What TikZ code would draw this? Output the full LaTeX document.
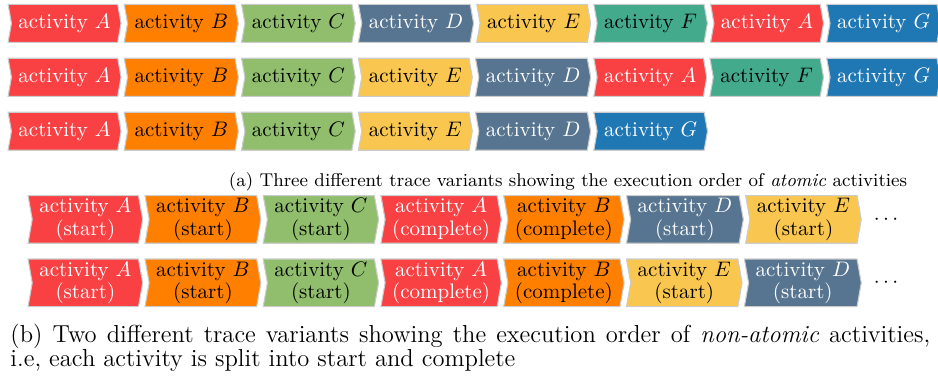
\documentclass[tikz,border=0pt]{standalone}
\usetikzlibrary{shapes.symbols,positioning}

\definecolor{actred}{HTML}{F94144}
\definecolor{actorange}{HTML}{FF7F00}
\definecolor{actgreen}{HTML}{90BE6D}
\definecolor{actslate}{HTML}{577590}
\definecolor{actyellow}{HTML}{F9C74F}
\definecolor{actteal}{HTML}{43AA8B}
\definecolor{actblue}{HTML}{1F78B4}

\begin{document}
\begin{tikzpicture}[x=1pt,y=1pt,
    act/.style  = {signal, signal to=east, signal from=west, signal pointer angle=160,
                   draw=gray!40, line width=0.5pt, inner xsep=3.35pt, minimum height=18.1pt},
    act2/.style = {act, align=center, inner ysep=1pt, minimum height=22.7pt,
                   font=\fontsize{10}{10.5}\selectfont},
    colA/.style = {fill=actred, text=white},
    colB/.style = {fill=actorange},
    colC/.style = {fill=actgreen},
    colD/.style = {fill=actslate, text=white},
    colE/.style = {fill=actyellow},
    colF/.style = {fill=actteal},
    colG/.style = {fill=actblue, text=white},
    gap/.style  = {right=2.6pt of #1}]
    \useasboundingbox (0,0) rectangle (446.7,-181.4);

    % (a) atomic activities
    \node[act,colA,anchor=west] (r1a) at (5.2,-11.1) {activity $A$};
    \node[act,colB,gap=r1a] (r1b) {activity $B$};
    \node[act,colC,gap=r1b] (r1c) {activity $C$};
    \node[act,colD,gap=r1c] (r1d) {activity $D$};
    \node[act,colE,gap=r1d] (r1e) {activity $E$};
    \node[act,colF,gap=r1e] (r1f) {activity $F$};
    \node[act,colA,gap=r1f] (r1g) {activity $A$};
    \node[act,colG,gap=r1g] (r1h) {activity $G$};

    \node[act,colA,anchor=west] (r2a) at (5.2,-36.8) {activity $A$};
    \node[act,colB,gap=r2a] (r2b) {activity $B$};
    \node[act,colC,gap=r2b] (r2c) {activity $C$};
    \node[act,colE,gap=r2c] (r2d) {activity $E$};
    \node[act,colD,gap=r2d] (r2e) {activity $D$};
    \node[act,colA,gap=r2e] (r2f) {activity $A$};
    \node[act,colF,gap=r2f] (r2g) {activity $F$};
    \node[act,colG,gap=r2g] (r2h) {activity $G$};

    \node[act,colA,anchor=west] (r3a) at (5.2,-62.5) {activity $A$};
    \node[act,colB,gap=r3a] (r3b) {activity $B$};
    \node[act,colC,gap=r3b] (r3c) {activity $C$};
    \node[act,colE,gap=r3c] (r3d) {activity $E$};
    \node[act,colD,gap=r3d] (r3e) {activity $D$};
    \node[act,colG,gap=r3e] (r3f) {activity $G$};

    \node[anchor=base,inner sep=0,font=\fontsize{8.8}{11}\selectfont] (capa) at (270.5,-89)
        {(a) Three different trace variants showing the execution order of \emph{atomic} activities};

    % (b) non-atomic activities
    \node[act2,colA,anchor=west] (r4a) at (15.1,-104.5) {activity $A$\\(start)};
    \node[act2,colB,gap=r4a] (r4b) {activity $B$\\(start)};
    \node[act2,colC,gap=r4b] (r4c) {activity $C$\\(start)};
    \node[act2,colA,gap=r4c] (r4d) {activity $A$\\(complete)};
    \node[act2,colB,gap=r4d] (r4e) {activity $B$\\(complete)};
    \node[act2,colD,gap=r4e] (r4f) {activity $D$\\(start)};
    \node[act2,colE,gap=r4f] (r4g) {activity $E$\\(start)};
    \node[inner sep=0,right=5.5pt of r4g] (dots4) {$\cdots$};

    \node[act2,colA,anchor=west] (r5a) at (15.1,-134.7) {activity $A$\\(start)};
    \node[act2,colB,gap=r5a] (r5b) {activity $B$\\(start)};
    \node[act2,colC,gap=r5b] (r5c) {activity $C$\\(start)};
    \node[act2,colA,gap=r5c] (r5d) {activity $A$\\(complete)};
    \node[act2,colB,gap=r5d] (r5e) {activity $B$\\(complete)};
    \node[act2,colE,gap=r5e] (r5f) {activity $E$\\(start)};
    \node[act2,colD,gap=r5f] (r5g) {activity $D$\\(start)};
    \node[inner sep=0,right=5.5pt of r5g] (dots5) {$\cdots$};

    \node[anchor=base west,inner sep=0,text width=438pt,align=justify,
          font=\fontsize{11.7}{11.4}\selectfont] (capb) at (4.8,-162.9)
        {(b) Two different trace variants showing the execution order of \emph{non-atomic} activities,\linebreak
         i.e, each activity is split into start and complete};
\end{tikzpicture}
\end{document}
